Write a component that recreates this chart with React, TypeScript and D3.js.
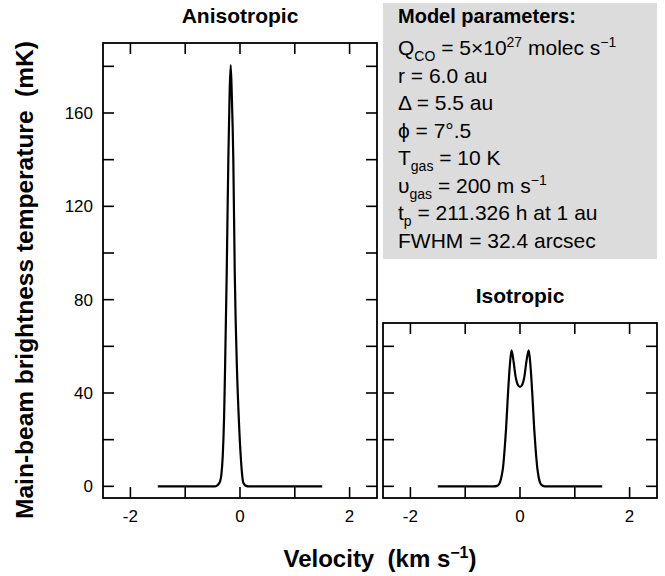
import React from "react";
import * as d3 from "d3";

// velocity (km/s) and main-beam temperature (mK)
const anisoVel = [-1.5, -0.46, -0.42, -0.39, -0.365, -0.34, -0.315, -0.29, -0.273, -0.242, -0.213, -0.19, -0.17, -0.15, -0.122, -0.096, -0.055, -0.02, 0.013, 0.035, 0.055, 0.08, 0.11, 0.16, 1.5];
const anisoTemp = [0, 0, 0.3, 1, 2, 5, 13, 30, 50, 92, 140, 168, 180.5, 168, 140, 92, 50, 28, 13, 6, 2, 0.8, 0.2, 0, 0];

const isoVel = [-1.5, -0.48, -0.42, -0.38, -0.355, -0.335, -0.31, -0.28, -0.255, -0.222, -0.185, -0.155, -0.12, -0.08, -0.04, 0, 0.04, 0.08, 0.12, 0.16, 0.19, 0.227, 0.26, 0.285, 0.315, 0.34, 0.36, 0.39, 0.45, 1.5];
const isoTemp = [0, 0, 0.2, 1, 2.5, 4.5, 8, 16, 24.4, 38.6, 52, 58.3, 54, 47, 43.5, 42.6, 43.5, 47, 54, 58.3, 52, 38.6, 24.4, 16, 8, 4, 2, 0.6, 0, 0];

const velTicks = [-2, -1, 0, 1, 2];
const velLabels = [-2, 0, 2];
const anisoTicks = [0, 20, 40, 60, 80, 100, 120, 140, 160, 180];
const anisoLabels = [0, 40, 80, 120, 160];
const isoTicks = [0, 20, 40, 60];

const FONT = "'Liberation Sans', Arial, Helvetica, sans-serif";
const TICK = 11;

type PanelProps = {
  left: number; right: number; top: number; bottom: number;
  yDomain: [number, number];
  vel: number[]; temp: number[];
  yTicks: number[]; yLabels: number[];
  title: string; titleY: number;
};

function Panel(p: PanelProps) {
  const x = d3.scaleLinear().domain([-2.5, 2.5]).range([p.left, p.right]);
  const y = d3.scaleLinear().domain(p.yDomain).range([p.bottom, p.top]);
  const line = d3
    .line<number>()
    .x((d, i) => x(p.vel[i]))
    .y((d) => y(d))
    .curve(d3.curveMonotoneX);

  return (
    <g>
      <text x={(p.left + p.right) / 2} y={p.titleY} textAnchor="middle"
        fontSize={21} fontWeight="bold" fontFamily={FONT}>{p.title}</text>
      {velTicks.map((t) => (
        <g key={"x" + t}>
          <line x1={x(t)} x2={x(t)} y1={p.bottom} y2={p.bottom - TICK} stroke="#000" strokeWidth={1.6} />
          <line x1={x(t)} x2={x(t)} y1={p.top} y2={p.top + TICK} stroke="#000" strokeWidth={1.6} />
        </g>
      ))}
      {velLabels.map((t) => (
        <text key={"xl" + t} x={x(t)} y={p.bottom + 24} textAnchor="middle"
          fontSize={17} fontFamily={FONT}>{t}</text>
      ))}
      {p.yTicks.map((t) => (
        <g key={"y" + t}>
          <line x1={p.left} x2={p.left + TICK} y1={y(t)} y2={y(t)} stroke="#000" strokeWidth={1.6} />
          <line x1={p.right} x2={p.right - TICK} y1={y(t)} y2={y(t)} stroke="#000" strokeWidth={1.6} />
        </g>
      ))}
      {p.yLabels.map((t) => (
        <text key={"yl" + t} x={p.left - 10} y={y(t)} dy="0.35em" textAnchor="end"
          fontSize={17} fontFamily={FONT}>{t}</text>
      ))}
      <path d={line(p.temp) || ""} fill="none" stroke="#000" strokeWidth={2.2} strokeLinejoin="round" />
      <rect x={p.left} y={p.top} width={p.right - p.left} height={p.bottom - p.top}
        fill="none" stroke="#000" strokeWidth={1.8} />
    </g>
  );
}

function ParamBox() {
  const lx = 398;
  const base = 55;
  const step = 27.5;
  const fs = 21;
  const sub = 14;
  return (
    <g fontFamily={FONT} fontSize={fs}>
      <rect x={383} y={3} width={274} height={256} fill="#dcdcdc" />
      <text x={lx} y={23} fontWeight="bold" fontSize={20}>Model parameters:</text>
      <text x={lx} y={base}>
        Q<tspan fontSize={sub} dy={6}>CO</tspan>
        <tspan dy={-6}> = 5×10</tspan>
        <tspan fontSize={sub} dy={-8}>27</tspan>
        <tspan dy={8}> molec s</tspan>
        <tspan fontSize={sub} dy={-8}>−1</tspan>
      </text>
      <text x={lx} y={base + step}>r = 6.0 au</text>
      <text x={lx} y={base + step * 2}>Δ = 5.5 au</text>
      <text x={lx} y={base + step * 3}>ϕ = 7°.5</text>
      <text x={lx} y={base + step * 4}>
        T<tspan fontSize={sub} dy={6}>gas</tspan>
        <tspan dy={-6}> = 10 K</tspan>
      </text>
      <text x={lx} y={base + step * 5}>
        υ<tspan fontSize={sub} dy={6}>gas</tspan>
        <tspan dy={-6}> = 200 m s</tspan>
        <tspan fontSize={sub} dy={-8}>−1</tspan>
      </text>
      <text x={lx} y={base + step * 6}>
        t<tspan fontSize={sub} dy={6}>p</tspan>
        <tspan dy={-6}> = 211.326 h at 1 au</tspan>
      </text>
      <text x={lx} y={base + step * 7}>FWHM = 32.4 arcsec</text>
    </g>
  );
}

export default function App() {
  return (
    <svg width={665} height={576} style={{ position: "absolute", left: 0, top: 0, background: "#fff" }}>
      <rect width={665} height={576} fill="#fff" />
      <Panel left={103} right={377} top={43} bottom={498} yDomain={[-5, 190]}
        vel={anisoVel} temp={anisoTemp} yTicks={anisoTicks} yLabels={anisoLabels}
        title="Anisotropic" titleY={23} />
      <Panel left={383} right={657} top={323} bottom={498} yDomain={[-5, 70]}
        vel={isoVel} temp={isoTemp} yTicks={isoTicks} yLabels={[]}
        title="Isotropic" titleY={303} />
      <ParamBox />
      <text transform="translate(33,280) rotate(-90)" textAnchor="middle"
        fontSize={24.5} fontWeight="bold" fontFamily={FONT} xmlSpace="preserve">
        Main-beam brightness temperature  (mK)
      </text>
      <text x={380} y={567} textAnchor="middle" fontSize={24} fontWeight="bold" fontFamily={FONT} xmlSpace="preserve">
        Velocity  (km s<tspan fontSize={16} dy={-9}>−1</tspan><tspan dy={9}>)</tspan>
      </text>
    </svg>
  );
}
